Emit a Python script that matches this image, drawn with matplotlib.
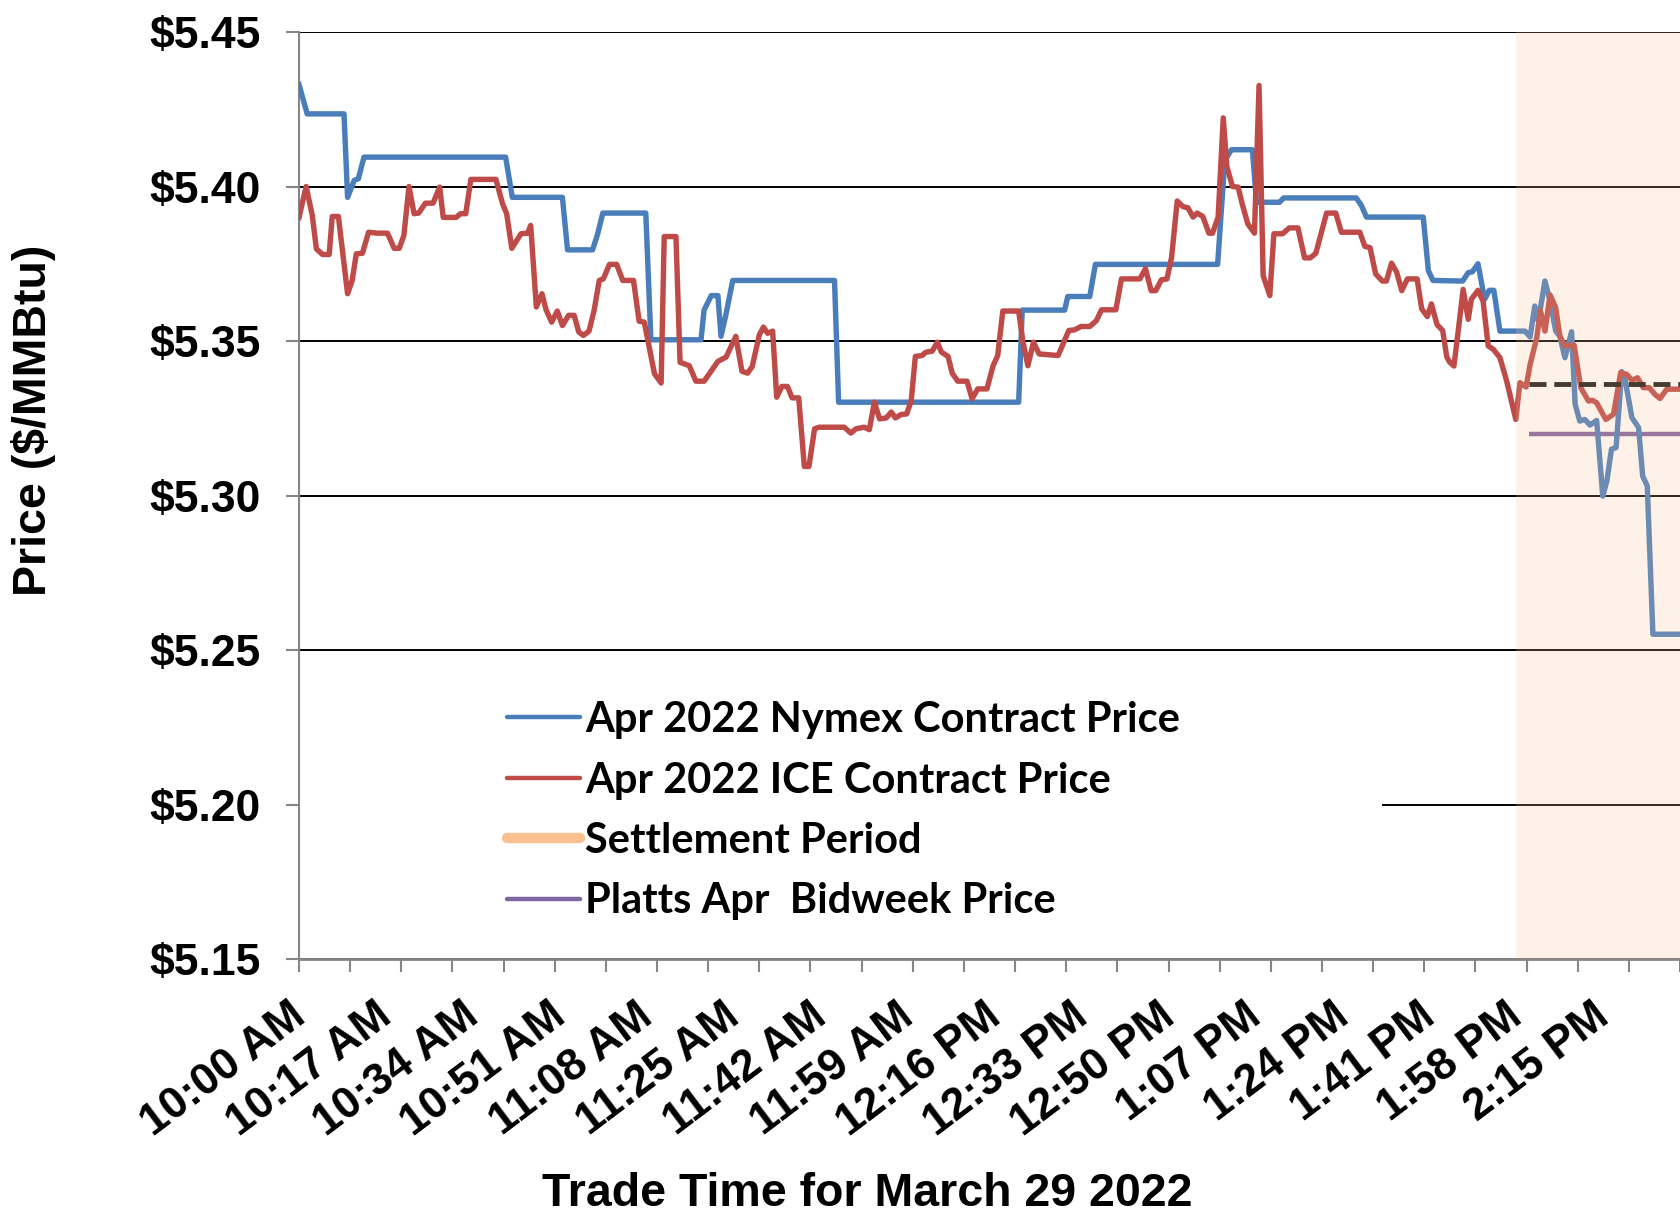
import matplotlib
matplotlib.use("Agg")
import matplotlib.pyplot as plt
from matplotlib.lines import Line2D
from matplotlib.patches import Rectangle
from matplotlib.transforms import ScaledTranslation

# minutes after 10:00 AM, price in $/MMBtu
nymex = [
    (0.0, 5.433), (1.6, 5.4235), (8.8, 5.4235), (9.5, 5.3965), (10.8, 5.402),
    (11.6, 5.4025), (12.7, 5.4095), (40.4, 5.4095), (41.7, 5.3965), (51.5, 5.3965),
    (52.5, 5.3795), (57.4, 5.3795), (58.4, 5.3847), (59.4, 5.3914), (67.8, 5.3914),
    (68.8, 5.3504), (78.6, 5.3504), (79.2, 5.360), (80.6, 5.3647), (81.9, 5.3647),
    (82.5, 5.3515), (83.5, 5.3588), (84.8, 5.3696), (104.7, 5.3696), (105.5, 5.3302),
    (140.7, 5.3302), (141.4, 5.360), (149.7, 5.360), (150.3, 5.3644), (154.6, 5.3644),
    (155.7, 5.3748), (179.6, 5.3748), (181.0, 5.4084), (182.3, 5.4119), (186.4, 5.4119),
    (187.2, 5.3949), (191.7, 5.3949), (192.5, 5.3963), (206.7, 5.3963), (207.7, 5.3939),
    (208.7, 5.3901), (219.8, 5.3901), (220.8, 5.3728), (221.7, 5.3696), (227.5, 5.3694),
    (228.6, 5.3721), (229.4, 5.3724), (230.5, 5.375), (231.8, 5.3635), (232.7, 5.3664),
    (233.6, 5.3664), (234.8, 5.3532), (239.7, 5.3532), (240.7, 5.3513), (241.6, 5.3613),
    (242.3, 5.3565), (243.6, 5.3694), (244.6, 5.3629), (245.7, 5.3532), (246.5, 5.3516),
    (247.5, 5.3446), (248.8, 5.353), (249.5, 5.3295), (250.4, 5.3241), (251.4, 5.3246),
    (252.4, 5.3228), (253.7, 5.3243), (254.9, 5.2998), (255.7, 5.3047), (256.6, 5.315),
    (257.5, 5.3155), (258.6, 5.3401), (259.2, 5.3381), (260.6, 5.3252), (261.9, 5.322),
    (262.7, 5.3063), (263.6, 5.3031), (264.7, 5.2551), (270.0, 5.2551),
]

ice = [
    (0.0, 5.390), (1.4, 5.400), (2.6, 5.3906), (3.4, 5.3798), (4.6, 5.378),
    (5.9, 5.378), (6.5, 5.3903), (7.7, 5.3903), (9.5, 5.3653), (10.4, 5.3696),
    (11.2, 5.3782), (12.4, 5.3784), (13.6, 5.3852), (15.3, 5.3849), (17.3, 5.3849),
    (18.6, 5.380), (19.6, 5.380), (20.5, 5.3841), (21.5, 5.400), (22.5, 5.3912),
    (23.4, 5.3914), (24.7, 5.3946), (26.2, 5.3946), (27.5, 5.3998), (28.2, 5.390),
    (30.7, 5.390), (31.6, 5.3912), (32.6, 5.3912), (33.6, 5.4023), (38.5, 5.4023),
    (39.8, 5.3944), (40.6, 5.3912), (41.6, 5.380), (43.4, 5.3847), (44.7, 5.3849),
    (45.3, 5.3874), (46.4, 5.361), (47.5, 5.3653), (48.3, 5.3601), (49.4, 5.3561),
    (50.5, 5.3597), (51.5, 5.355), (52.7, 5.3583), (53.8, 5.3583), (54.7, 5.3529),
    (55.6, 5.3518), (56.7, 5.3532), (57.7, 5.3599), (58.7, 5.3696), (59.5, 5.3701),
    (60.7, 5.3748), (62.1, 5.3748), (63.3, 5.3696), (65.4, 5.3696), (66.5, 5.3564),
    (67.5, 5.3561), (69.5, 5.3394), (70.8, 5.3364), (71.4, 5.3838), (73.7, 5.3838),
    (74.5, 5.3431), (76.3, 5.342), (77.6, 5.337), (79.2, 5.337), (81.9, 5.3434),
    (83.5, 5.3448), (85.4, 5.3515), (86.6, 5.3402), (87.7, 5.3396), (88.6, 5.3417),
    (90.0, 5.352), (90.8, 5.3545), (91.6, 5.3525), (92.6, 5.3532), (93.4, 5.3318),
    (94.4, 5.3353), (95.5, 5.3353), (96.4, 5.3316), (97.7, 5.3316), (98.8, 5.3094),
    (99.7, 5.3094), (100.8, 5.3216), (101.7, 5.3221), (106.6, 5.3221), (107.9, 5.3202),
    (108.9, 5.3216), (110.5, 5.3221), (111.5, 5.3213), (112.5, 5.3302), (113.5, 5.3248),
    (114.8, 5.3251), (115.8, 5.327), (116.6, 5.3251), (117.7, 5.3262), (118.8, 5.3264),
    (119.7, 5.3307), (120.5, 5.345), (121.8, 5.3453), (122.6, 5.3464), (123.8, 5.3467),
    (124.8, 5.3496), (125.6, 5.3464), (126.9, 5.345), (127.7, 5.3396), (128.8, 5.337),
    (130.6, 5.337), (131.6, 5.3313), (132.7, 5.3345), (134.5, 5.3345), (135.7, 5.342),
    (136.6, 5.3453), (137.6, 5.3597), (140.7, 5.3597), (141.5, 5.3502), (142.5, 5.342),
    (143.6, 5.3496), (144.7, 5.3458), (148.4, 5.3453), (149.4, 5.3491), (150.5, 5.3534),
    (151.6, 5.3536), (152.9, 5.3547), (154.6, 5.3547), (155.9, 5.3566), (156.9, 5.3601),
    (159.7, 5.3601), (160.8, 5.3701), (164.4, 5.3701), (165.5, 5.3734), (166.6, 5.3663),
    (167.5, 5.3663), (168.6, 5.3698), (169.7, 5.3701), (170.6, 5.3771), (171.7, 5.3953),
    (172.8, 5.3935), (173.8, 5.3931), (174.8, 5.3901), (175.6, 5.3914), (176.7, 5.3903),
    (177.9, 5.3849), (178.6, 5.3849), (179.7, 5.3901), (180.7, 5.4222), (181.4, 5.4065),
    (182.5, 5.400), (183.6, 5.3998), (184.4, 5.3944), (185.5, 5.3879), (186.8, 5.3849),
    (187.7, 5.4327), (188.5, 5.3712), (189.8, 5.3647), (190.6, 5.3847), (192.3, 5.3847),
    (193.6, 5.3866), (195.3, 5.3866), (196.6, 5.3769), (197.7, 5.3769), (198.8, 5.3784),
    (200.9, 5.3914), (202.7, 5.3914), (203.8, 5.3852), (207.4, 5.3852), (208.4, 5.3806),
    (209.4, 5.3802), (210.5, 5.3717), (211.8, 5.3694), (212.6, 5.3694), (213.6, 5.3752),
    (214.6, 5.3723), (215.6, 5.3663), (216.7, 5.3701), (218.6, 5.3701), (219.5, 5.3604),
    (220.6, 5.3579), (221.4, 5.362), (222.5, 5.3553), (223.6, 5.3534), (224.4, 5.3448),
    (225.0, 5.3431), (225.8, 5.3419), (226.6, 5.3527), (227.6, 5.3667), (228.6, 5.357),
    (229.2, 5.3635), (230.5, 5.3664), (231.5, 5.3629), (232.5, 5.3484), (233.5, 5.3473),
    (234.8, 5.3446), (236.1, 5.3371), (237.9, 5.3246), (238.7, 5.3365), (239.9, 5.3351),
    (240.7, 5.3424), (242.0, 5.3511), (242.7, 5.3599), (243.6, 5.3532), (244.6, 5.3649),
    (245.7, 5.3608), (246.5, 5.3516), (247.5, 5.3484), (249.3, 5.3487), (250.6, 5.3349),
    (252.1, 5.3306), (252.9, 5.3308), (253.7, 5.330), (255.5, 5.3246), (257.0, 5.3263),
    (257.9, 5.3349), (258.4, 5.3398), (259.6, 5.3392), (260.6, 5.3373), (261.7, 5.3381),
    (262.8, 5.3349), (264.0, 5.3349), (265.1, 5.3327), (266.1, 5.3314), (267.4, 5.3344),
    (270.0, 5.3344),
]

settle_start = 238.0
x_end = 270.0
bench_start = 240.5
ice_settle = 5.336
platts_bidweek = 5.320

y_ticks = [5.15, 5.20, 5.25, 5.30, 5.35, 5.40, 5.45]
label_minutes = [0, 17, 34, 51, 68, 85, 102, 119, 136, 153, 170, 187, 204, 221, 238, 255]
label_text = ["10:00 AM", "10:17 AM", "10:34 AM", "10:51 AM", "11:08 AM", "11:25 AM",
              "11:42 AM", "11:59 AM", "12:16 PM", "12:33 PM", "12:50 PM", "1:07 PM",
              "1:24 PM", "1:41 PM", "1:58 PM", "2:15 PM"]
tick_minutes = list(range(0, 271, 10))

legend_labels = ["Apr 2022 Nymex Contract Price", "Apr 2022 ICE Contract Price",
                 "Settlement Period", "Platts Apr  Bidweek Price"]

BLUE = "#4A7EBB"
RED = "#BE4B48"
PURPLE = "#8064A2"
ORANGE = "#FAC090"
GRAY = "#868686"
ARIAL = ["Liberation Sans", "DejaVu Sans"]

fig = plt.figure(figsize=(16.8, 12.2), dpi=100)
ax = fig.add_axes([299 / 1680, 1 - 959 / 1220, 1381 / 1680, 927 / 1220])

nx, ny = zip(*nymex)
ix, iy = zip(*ice)
ax.hlines(platts_bidweek, bench_start, x_end, color=PURPLE, lw=3.2, zorder=3)
ax.plot(nx, ny, color=BLUE, lw=3.9, solid_joinstyle="round", zorder=4)
ax.plot(ix, iy, color=RED, lw=3.9, solid_joinstyle="round", zorder=4.5)
ax.hlines(ice_settle, bench_start, x_end, color="#1a1a1a", lw=3.5,
          linestyles=(0, (3.5, 1.6)), zorder=5)
ax.axvspan(settle_start, x_end, color=ORANGE, alpha=0.2, lw=0, zorder=6)

ax.set_xlim(0, x_end)
ax.set_ylim(5.15, 5.45)

# y axis
ax.set_yticks(y_ticks)
ax.set_yticklabels([f"${v:.2f}" for v in y_ticks], fontfamily=ARIAL,
                   fontweight="bold", fontsize=32)
ax.tick_params(axis="y", length=9.7, width=1.5, color=GRAY, pad=18)
ax.grid(axis="y", color="black", lw=1.4, zorder=1)
ax.set_axisbelow(True)

# x axis: marks every 10 minutes, labels every 17
ax.xaxis.remove_overlapping_locs = False
ax.set_xticks(label_minutes)
ax.set_xticklabels(label_text, fontfamily=ARIAL, fontweight="bold", fontsize=32,
                   rotation=37, ha="right", va="top", rotation_mode="anchor")
ax.set_xticks(tick_minutes, minor=True)
ax.tick_params(axis="x", which="major", length=0, pad=26)
ax.tick_params(axis="x", which="minor", length=9.5, width=1.5, color=GRAY)
shift = ScaledTranslation(-11 / 100, 0, fig.dpi_scale_trans)
for lab in ax.get_xticklabels():
    lab.set_transform(lab.get_transform() + shift)

for s in ["top", "right"]:
    ax.spines[s].set_visible(False)
ax.spines["left"].set_color(GRAY)
ax.spines["left"].set_linewidth(1.5)
ax.spines["bottom"].set_color(GRAY)
ax.spines["bottom"].set_linewidth(2)

# white legend background hiding part of the grid
ax.add_patch(Rectangle((0, 0.005), 0.784, 0.31, transform=ax.transAxes,
                       facecolor="white", edgecolor="none", zorder=2))

handles = [
    Line2D([], [], color=BLUE, lw=3.2, solid_capstyle="round"),
    Line2D([], [], color=RED, lw=3.2, solid_capstyle="round"),
    Line2D([], [], color=ORANGE, lw=7.5, solid_capstyle="round"),
    Line2D([], [], color=PURPLE, lw=3.2, solid_capstyle="round"),
]
fig.legend(handles, legend_labels, loc="upper left",
           bbox_to_anchor=(507 / 1680, 1 - 701 / 1220), frameon=False,
           borderpad=0, borderaxespad=0, handlelength=1.75, handletextpad=0.12,
           labelspacing=0.54, prop={"family": ["Lato", "DejaVu Sans"],
                                    "weight": "bold", "size": 30})

fig.text(34 / 1680, 1 - 420 / 1220, "Price ($/MMBtu)", rotation=90, ha="center",
         va="center", fontfamily=ARIAL, fontweight="bold", fontsize=33.5)
fig.text(867 / 1680, 4 / 1220, "Trade Time for March 29 2022", ha="center",
         va="bottom", fontfamily=ARIAL, fontweight="bold", fontsize=33.5)

fig.savefig("out.png", dpi=100)
